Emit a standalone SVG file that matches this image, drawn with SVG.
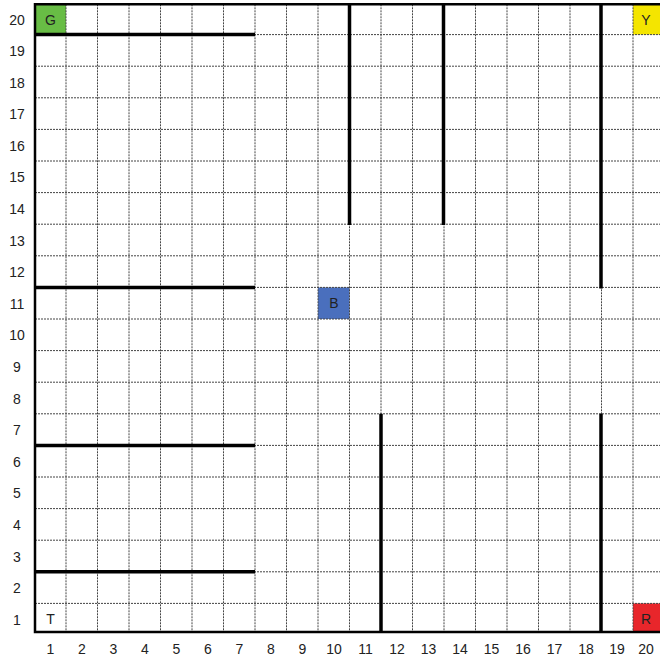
<svg xmlns="http://www.w3.org/2000/svg" width="660" height="662" viewBox="0 0 660 662">
<style>
.grid line{stroke:#444;stroke-width:1;stroke-dasharray:2 1}
.wall{stroke:#000;stroke-width:3.5;stroke-linecap:butt}
.border{stroke:#000;stroke-width:2.5;fill:none}
text{font-family:"Liberation Sans",Arial,sans-serif;font-size:14px;fill:#222;text-anchor:middle}
</style>
<rect width="660" height="662" fill="#fff"/>
<g id="cells">
<rect x="35" y="4.3" width="31" height="30.3" fill="#68bd45"/>
<rect x="633" y="4.3" width="27" height="30.3" fill="#f4e500"/>
<rect x="633" y="603.4" width="27" height="28.6" fill="#e8262b"/>
<rect x="318" y="287.4" width="31.5" height="31.6" fill="#4a6fbd"/>
</g>
<g class="grid">
<line x1="66" y1="4.3" x2="66" y2="632"/>
<line x1="97.5" y1="4.3" x2="97.5" y2="632"/>
<line x1="129" y1="4.3" x2="129" y2="632"/>
<line x1="160.5" y1="4.3" x2="160.5" y2="632"/>
<line x1="192" y1="4.3" x2="192" y2="632"/>
<line x1="223.5" y1="4.3" x2="223.5" y2="632"/>
<line x1="255" y1="4.3" x2="255" y2="632"/>
<line x1="286.5" y1="4.3" x2="286.5" y2="632"/>
<line x1="318" y1="4.3" x2="318" y2="632"/>
<line x1="349.5" y1="4.3" x2="349.5" y2="632"/>
<line x1="381" y1="4.3" x2="381" y2="632"/>
<line x1="412.5" y1="4.3" x2="412.5" y2="632"/>
<line x1="444" y1="4.3" x2="444" y2="632"/>
<line x1="475.5" y1="4.3" x2="475.5" y2="632"/>
<line x1="507" y1="4.3" x2="507" y2="632"/>
<line x1="538.5" y1="4.3" x2="538.5" y2="632"/>
<line x1="570" y1="4.3" x2="570" y2="632"/>
<line x1="601.5" y1="4.3" x2="601.5" y2="632"/>
<line x1="633" y1="4.3" x2="633" y2="632"/>
<line x1="35" y1="34.6" x2="660" y2="34.6"/>
<line x1="35" y1="66.2" x2="660" y2="66.2"/>
<line x1="35" y1="97.8" x2="660" y2="97.8"/>
<line x1="35" y1="129.4" x2="660" y2="129.4"/>
<line x1="35" y1="161" x2="660" y2="161"/>
<line x1="35" y1="192.6" x2="660" y2="192.6"/>
<line x1="35" y1="224.2" x2="660" y2="224.2"/>
<line x1="35" y1="255.8" x2="660" y2="255.8"/>
<line x1="35" y1="287.4" x2="660" y2="287.4"/>
<line x1="35" y1="319" x2="660" y2="319"/>
<line x1="35" y1="350.6" x2="660" y2="350.6"/>
<line x1="35" y1="382.2" x2="660" y2="382.2"/>
<line x1="35" y1="413.8" x2="660" y2="413.8"/>
<line x1="35" y1="445.4" x2="660" y2="445.4"/>
<line x1="35" y1="477" x2="660" y2="477"/>
<line x1="35" y1="508.6" x2="660" y2="508.6"/>
<line x1="35" y1="540.2" x2="660" y2="540.2"/>
<line x1="35" y1="571.8" x2="660" y2="571.8"/>
<line x1="35" y1="603.4" x2="660" y2="603.4"/>
</g>
<g id="border">
<path class="border" d="M660 4.3H35V632H660"/>
</g>
<g id="walls">
<line class="wall" x1="34" y1="34.6" x2="255" y2="34.6"/>
<line class="wall" x1="34" y1="287.4" x2="255" y2="287.4"/>
<line class="wall" x1="34" y1="445.4" x2="255" y2="445.4"/>
<line class="wall" x1="34" y1="571.8" x2="255" y2="571.8"/>
<line class="wall" x1="349.5" y1="3" x2="349.5" y2="225"/>
<line class="wall" x1="443.5" y1="3" x2="443.5" y2="225"/>
<line class="wall" x1="601" y1="3" x2="601" y2="288.5"/>
<line class="wall" x1="381" y1="413.8" x2="381" y2="633"/>
<line class="wall" x1="601" y1="413.8" x2="601" y2="633"/>
</g>
<g id="cell-labels">
<text x="50.5" y="24.5">G</text>
<text x="646" y="24.5">Y</text>
<text x="333.8" y="308">B</text>
<text x="646" y="624">R</text>
<text x="50.5" y="624">T</text>
</g>
<g id="row-labels">
<text x="17" y="24.5">20</text>
<text x="17" y="55.9">19</text>
<text x="17" y="87.5">18</text>
<text x="17" y="119.1">17</text>
<text x="17" y="150.7">16</text>
<text x="17" y="182.3">15</text>
<text x="17" y="213.9">14</text>
<text x="17" y="245.5">13</text>
<text x="17" y="277.1">12</text>
<text x="17" y="308.7">11</text>
<text x="17" y="340.3">10</text>
<text x="17" y="371.9">9</text>
<text x="17" y="403.5">8</text>
<text x="17" y="435.1">7</text>
<text x="17" y="466.7">6</text>
<text x="17" y="498.3">5</text>
<text x="17" y="529.9">4</text>
<text x="17" y="561.5">3</text>
<text x="17" y="593.1">2</text>
<text x="17" y="624.5">1</text>
</g>
<g id="col-labels">
<text x="50.5" y="653.5">1</text>
<text x="82" y="653.5">2</text>
<text x="113.5" y="653.5">3</text>
<text x="145" y="653.5">4</text>
<text x="176.5" y="653.5">5</text>
<text x="208" y="653.5">6</text>
<text x="239.5" y="653.5">7</text>
<text x="271" y="653.5">8</text>
<text x="302.5" y="653.5">9</text>
<text x="334" y="653.5">10</text>
<text x="365.5" y="653.5">11</text>
<text x="397" y="653.5">12</text>
<text x="428.5" y="653.5">13</text>
<text x="460" y="653.5">14</text>
<text x="491.5" y="653.5">15</text>
<text x="523" y="653.5">16</text>
<text x="554.5" y="653.5">17</text>
<text x="586" y="653.5">18</text>
<text x="617" y="653.5">19</text>
<text x="646" y="653.5">20</text>
</g>
</svg>
